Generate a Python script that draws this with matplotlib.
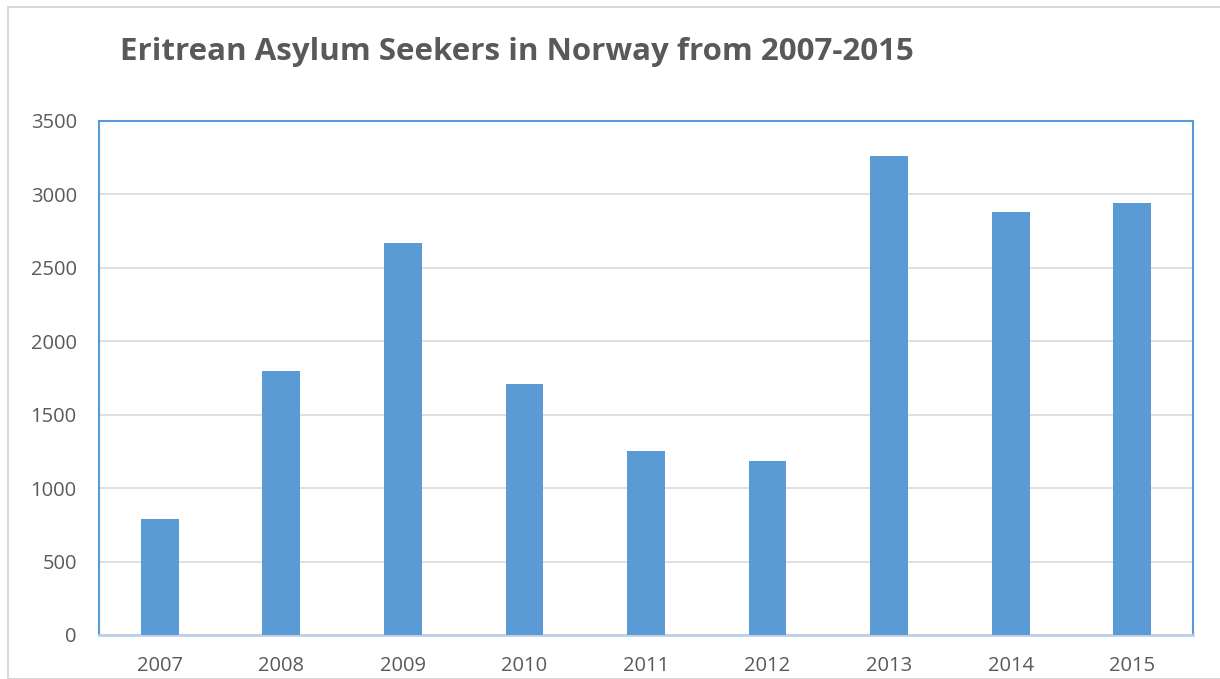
import matplotlib
matplotlib.use("Agg")
import matplotlib.pyplot as plt
from matplotlib.patches import Rectangle

years = ["2007", "2008", "2009", "2010", "2011", "2012", "2013", "2014", "2015"]
seekers = [790, 1800, 2670, 1710, 1255, 1185, 3260, 2880, 2945]
yticks = [0, 500, 1000, 1500, 2000, 2500, 3000, 3500]
title = "Eritrean Asylum Seekers in Norway from 2007-2015"

W, H = 1220, 679
fig = plt.figure(figsize=(W / 100, H / 100), dpi=100)
fig.patch.set_facecolor("white")

# outer chart border
fig.add_artist(Rectangle((8 / W, 0), 1.2, 1 - 7 / H, transform=fig.transFigure,
                         fill=False, edgecolor="#d9d9d9", linewidth=1.5))

L, R, T, B = 99, 1193, 121, 635
ax = fig.add_axes([L / W, 1 - B / H, (R - L) / W, (B - T) / H])
x = range(len(years))
ax.bar(x, seekers, width=0.31, color="#5b9bd5", zorder=3)
ax.set_xlim(-0.5, len(years) - 0.5)
ax.set_ylim(0, 3500)
ax.set_yticks(yticks)
ax.set_yticklabels([str(v) for v in yticks])
ax.set_xticks(list(x))
ax.set_xticklabels(years)
ax.grid(axis="y", color="#d9d9d9", linewidth=1.2, zorder=0)
ax.tick_params(length=0, labelsize=14.5, labelcolor="#595959")
ax.tick_params(axis="y", pad=16)
ax.tick_params(axis="x", pad=15)
for lab in ax.get_xticklabels() + ax.get_yticklabels():
    lab.set_fontfamily("Open Sans")
for s in ["left", "right", "top"]:
    ax.spines[s].set_color("#5b9bd5")
    ax.spines[s].set_linewidth(1.5)
ax.spines["bottom"].set_color("#bdd0e6")
ax.spines["bottom"].set_linewidth(2)

fig.text(120 / W, 1 - 52 / H, title, fontsize=22.5, fontweight="bold",
         color="#595959", family="Open Sans", va="center", ha="left")

fig.savefig("out.png", dpi=100)
